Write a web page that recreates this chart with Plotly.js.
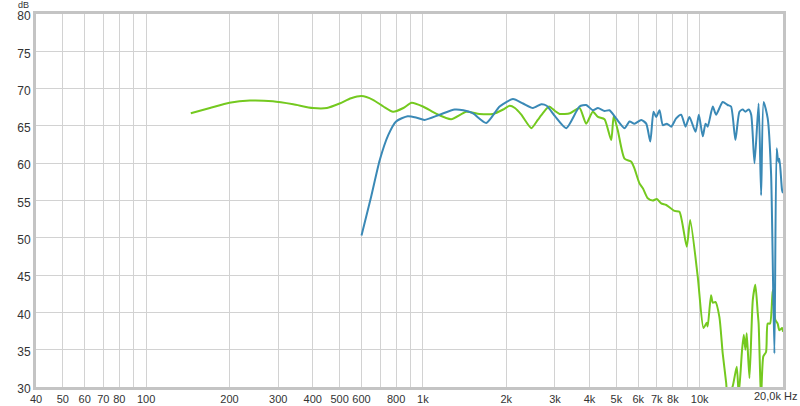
<!DOCTYPE html>
<html>
<head>
<meta charset="utf-8">
<script src="https://cdn.plot.ly/plotly-3.0.1.min.js"></script>
<style>
html,body{margin:0;padding:0;background:#fff;}
#chart{width:800px;height:406px;}
</style>
</head>
<body>
<div id="chart"></div>
<script>
// ---- data ----
const greenFreq = [145,170,200,237,287,340,400,450,500,550,600,660,720,780,850,910,1000,1120,1265,1435,1600,1790,1950,2057,2150,2267,2465,2600,2713,2855,3000,3118,3400,3680,3890,4110,4290,4530,4790,4890,5060,5350,5660,5810,6060,6240,6490,6770,7000,7260,7570,8110,8450,8980,9240,9840,10320,10600,10690,10990,11150,11400,11780,12110,12470,12600,13160,13610,13840,14230,14430,14630,14790,15130,15560,15890,16210,16330,16560,16670,16980,17370,17610,17960,18360,18760,19130,19410,19840,20000];
const greenDb   = [66.7,67.4,68.1,68.4,68.3,67.9,67.4,67.4,68.0,68.7,69.0,68.5,67.6,66.9,67.4,68.1,67.6,66.6,65.9,66.9,66.6,66.6,67.2,67.7,67.4,66.5,64.7,65.8,66.7,67.6,67.0,66.6,66.7,67.4,65.3,66.9,66.2,65.9,63.1,66.3,64.4,60.6,60.2,59.3,57.3,56.6,55.3,55.0,55.2,54.6,54.4,53.6,53.5,48.8,52.4,44.8,37.9,38.6,38.1,42.3,41.3,41.4,39.4,34.5,30.5,28.5,30.1,32.7,29.0,35.0,37.0,35.0,37.2,31.2,41.7,43.7,39.9,38.5,30.9,28.5,34.1,34.7,38.5,38.5,43.0,39.0,38.5,37.6,37.9,37.4];

const blueFreq = [600,650,698,750,800,881,950,1014,1149,1302,1400,1513,1694,1893,2115,2300,2497,2677,2800,3000,3296,3680,3890,4110,4290,4530,4720,4990,5350,5580,5810,6150,6410,6630,6810,6960,7160,7360,7610,7890,8220,8570,8890,9180,9660,9930,10260,10500,10690,11150,11460,12110,12620,12980,13460,13920,14300,14630,15040,15350,15780,16330,16670,17020,17610,18110,18620,18970,19230,19410,19840,20000];
const blueDb   = [50.3,55.5,60.4,63.8,65.6,66.3,66.1,65.8,66.5,67.2,67.1,66.7,65.4,67.6,68.6,68.0,67.4,67.9,67.7,66.3,64.7,67.6,67.8,67.1,67.4,67.0,67.1,66.0,64.7,65.6,65.3,65.8,65.3,62.9,66.9,66.2,67.1,65.1,65.3,64.9,66.0,66.5,64.9,66.2,64.2,66.5,63.6,65.3,64.9,67.6,66.5,68.2,67.8,67.6,63.1,66.9,67.2,66.9,67.2,66.5,60.0,68.0,55.7,68.2,66.0,58.6,34.5,62.0,60.2,60.6,56.4,56.0];

const xTickVals = [40,50,60,70,80,90,100,200,300,400,500,600,700,800,900,1000,2000,3000,4000,5000,6000,7000,8000,9000,10000,20000];
const xTickText = ['40','50','60','70','80','','100','200','300','400','500','600','','800','','1k','2k','3k','4k','5k','6k','7k','8k','','10k',''];
const yTickVals = [30,35,40,45,50,55,60,65,70,75,80];

const traces = [
  {x: greenFreq, y: greenDb, type: 'scatter', mode: 'lines',
   line: {color: '#74c91f', width: 2, shape: 'spline', smoothing: 0.6}, hoverinfo: 'skip'},
  {x: blueFreq, y: blueDb, type: 'scatter', mode: 'lines',
   line: {color: '#3a89b6', width: 2, shape: 'spline', smoothing: 0.6}, hoverinfo: 'skip'}
];

const layout = {
  width: 800, height: 406,
  margin: {l: 36, r: 17, t: 14, b: 19},
  paper_bgcolor: '#ffffff', plot_bgcolor: '#ffffff',
  showlegend: false,
  font: {family: 'Liberation Sans, Arial, sans-serif', size: 11, color: '#333'},
  xaxis: {
    type: 'log', range: [Math.log10(40), Math.log10(20000)],
    tickmode: 'array', tickvals: xTickVals, ticktext: xTickText,
    tickangle: 0, automargin: false,
    showgrid: true, gridcolor: '#d2d2d2', gridwidth: 1,
    showline: true, linecolor: '#c4c4c4', linewidth: 3, mirror: true,
    ticks: '', zeroline: false, fixedrange: true,
    tickfont: {size: 11, color: '#333'}
  },
  yaxis: {
    range: [30, 80], tickmode: 'array', tickvals: yTickVals,
    automargin: false, ticklabelshift: 2,
    showgrid: true, gridcolor: '#d2d2d2', gridwidth: 1,
    showline: true, linecolor: '#c4c4c4', linewidth: 3, mirror: true,
    ticks: '', zeroline: false, fixedrange: true,
    tickfont: {size: 12, color: '#333'}
  },
  annotations: [
    {text: 'dB', xref: 'paper', yref: 'paper', x: 0, y: 1, xanchor: 'right', yanchor: 'middle',
     xshift: -5, yshift: 9, showarrow: false, font: {size: 9, color: '#333'}},
    {text: '20,0k Hz', xref: 'paper', yref: 'paper', x: 1, y: 0, xanchor: 'right', yanchor: 'top',
     xshift: 16, yshift: -1, showarrow: false, font: {size: 11, color: '#333'}}
  ]
};

Plotly.newPlot('chart', traces, layout, {staticPlot: true, displayModeBar: false});
</script>
</body>
</html>
